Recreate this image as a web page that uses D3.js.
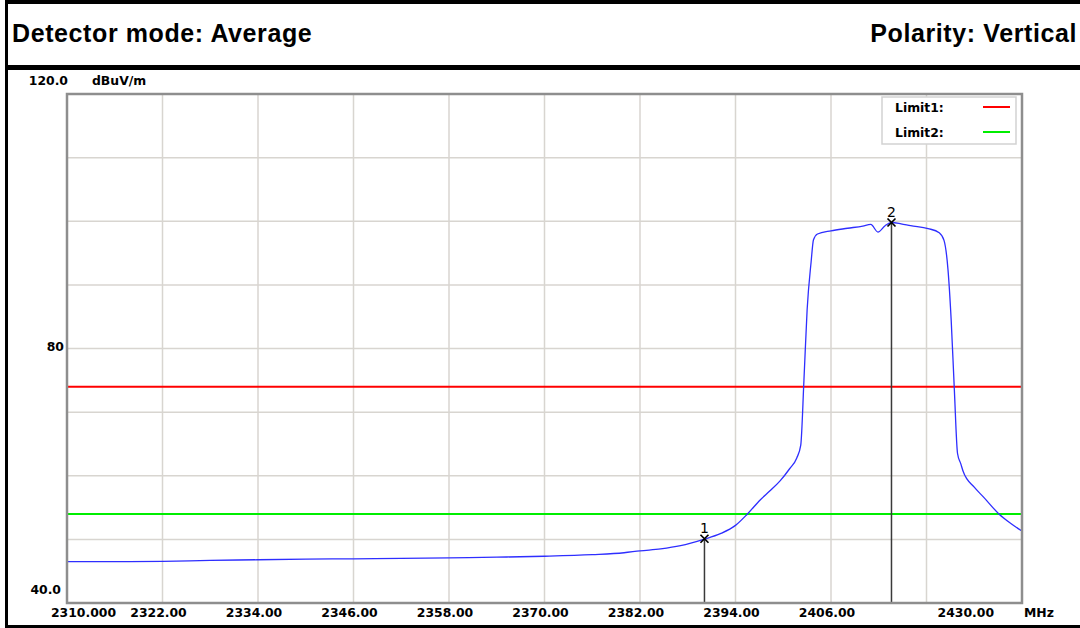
<!DOCTYPE html>
<html>
<head>
<meta charset="utf-8">
<script src="https://cdn.jsdelivr.net/npm/d3@7"></script>
<style>
  html, body { margin: 0; padding: 0; background: #fff; }
  svg { display: block; }
  .hdr { font-family: "Liberation Sans", Arial, sans-serif; font-weight: bold; font-size: 25px; letter-spacing: 0.6px; fill: #000; }
  .lbl { font-family: "DejaVu Sans", sans-serif; font-weight: bold; font-size: 12.4px; fill: #000; }
</style>
</head>
<body>
<svg id="chart" width="1080" height="628"></svg>
<script>
// ---------- data ----------
const headerLeft = "Detector mode: Average";
const headerRight = "Polarity: Vertical";
const yUnit = "dBuV/m";
const xUnit = "MHz";

const xDomain = [2310, 2430];
const yDomain = [40, 120];

const xTickValues = [2310, 2322, 2334, 2346, 2358, 2370, 2382, 2394, 2406, 2418, 2430];
const xTickLabels = ["2310.000", "2322.00", "2334.00", "2346.00", "2358.00", "2370.00", "2382.00", "2394.00", "2406.00", "", "2430.00"];
const yGridValues = [40, 50, 60, 70, 80, 90, 100, 110, 120];
const yTickValues = [120, 80, 40];
const yTickLabels = ["120.0", "80", "40.0"];

const limitNames = ["Limit1:", "Limit2:"];
const limitValues = [74, 54];
const limitColors = ["#ff0000", "#00ee00"];

const traceFreq = [2310, 2316, 2322, 2328, 2334, 2340, 2346, 2352, 2358, 2364, 2370, 2376, 2380, 2382, 2384.6, 2387.1, 2390.0, 2392.1, 2394.0, 2395.5, 2397.1, 2398.3, 2399.6, 2400.8, 2401.7, 2402.2, 2402.6, 2403.0, 2403.5, 2403.8, 2404.3, 2406.0, 2408.1, 2410.0, 2411.0, 2411.9, 2412.8, 2413.6, 2414.8, 2416.0, 2418.2, 2419.6, 2420.2, 2420.7, 2421.1, 2421.5, 2421.9, 2422.3, 2422.6, 2424.0, 2425.2, 2427.1, 2428.6, 2430];
const traceLevel = [46.5, 46.5, 46.55, 46.7, 46.8, 46.9, 46.95, 47.0, 47.1, 47.2, 47.35, 47.6, 47.9, 48.2, 48.5, 49.0, 50.0, 50.9, 52.2, 54.0, 56.2, 57.6, 59.2, 61.1, 62.8, 64.8, 75.0, 86.1, 93.6, 97.1, 98.0, 98.5, 98.9, 99.25, 99.5, 98.3, 99.3, 99.8, 99.6, 99.3, 98.85, 98.2, 97.0, 92.4, 84.5, 73.5, 63.5, 61.9, 60.7, 58.2, 56.6, 54.0, 52.5, 51.3];

const markerNames = ["1", "2"];
const markerFreq = [2390.1, 2413.6];
const markerLevel = [50.1, 99.8];

// ---------- layout ----------
const W = 1080, H = 628;
const plot = { left: 67, right: 1022, top: 94, bottom: 603 };

const svg = d3.select("#chart");
svg.append("rect").attr("width", W).attr("height", H).attr("fill", "#fff");

const x = d3.scaleLinear().domain(xDomain).range([plot.left, plot.right]);
const y = d3.scaleLinear().domain(yDomain).range([plot.bottom, plot.top]);

// frame
const frame = svg.append("g").attr("fill", "#000");
frame.append("rect").attr("x", 5).attr("y", 0).attr("width", W - 5).attr("height", 4);
frame.append("rect").attr("x", 5).attr("y", 65).attr("width", W - 5).attr("height", 5);
frame.append("rect").attr("x", 5).attr("y", 0).attr("width", 3).attr("height", H);
frame.append("rect").attr("x", 5).attr("y", 625).attr("width", W - 5).attr("height", 3);

// header
svg.append("text").attr("class", "hdr").attr("x", 12).attr("y", 42).text(headerLeft);
svg.append("text").attr("class", "hdr").attr("x", 1077).attr("y", 42)
  .attr("text-anchor", "end").text(headerRight);

// grid
const grid = svg.append("g").attr("stroke", "#d8d5d0").attr("stroke-width", 1.5);
grid.selectAll("line.v").data(xTickValues.slice(1, -1)).join("line")
  .attr("x1", d => x(d)).attr("x2", d => x(d))
  .attr("y1", plot.top).attr("y2", plot.bottom);
grid.selectAll("line.h").data(yGridValues.slice(1, -1)).join("line")
  .attr("x1", plot.left).attr("x2", plot.right)
  .attr("y1", d => y(d)).attr("y2", d => y(d));

// limits
svg.append("g").selectAll("line").data(limitValues).join("line")
  .attr("x1", plot.left).attr("x2", plot.right)
  .attr("y1", d => y(d)).attr("y2", d => y(d))
  .attr("stroke", (d, i) => limitColors[i]).attr("stroke-width", 2);

// marker lines
svg.append("g").selectAll("line").data(markerFreq).join("line")
  .attr("x1", d => x(d)).attr("x2", d => x(d))
  .attr("y1", (d, i) => y(markerLevel[i])).attr("y2", plot.bottom)
  .attr("stroke", "#3a3a3a").attr("stroke-width", 1.5);

// trace
const traceData = traceFreq.map((f, i) => [f, traceLevel[i]]);
svg.append("path").datum(traceData)
  .attr("fill", "none").attr("stroke", "#2e2eff").attr("stroke-width", 1.3)
  .attr("d", d3.line().curve(d3.curveMonotoneX).x(d => x(d[0])).y(d => y(d[1])));

// markers
const mk = svg.append("g");
markerFreq.forEach((f, i) => {
  const cx = x(f), cy = y(markerLevel[i]);
  mk.append("path")
    .attr("d", `M${cx - 4},${cy - 4}L${cx + 4},${cy + 4}M${cx + 4},${cy - 4}L${cx - 4},${cy + 4}`)
    .attr("stroke", "#000").attr("stroke-width", 1.7).attr("fill", "none");
  mk.append("text").attr("x", cx).attr("y", cy - 6)
    .attr("text-anchor", "middle")
    .attr("font-family", "DejaVu Sans, sans-serif").attr("font-size", 14).attr("fill", "#000")
    .text(markerNames[i]);
});

// plot border
svg.append("rect")
  .attr("x", plot.left).attr("y", plot.top)
  .attr("width", plot.right - plot.left).attr("height", plot.bottom - plot.top)
  .attr("fill", "none").attr("stroke", "#8e8e8e").attr("stroke-width", 2.5);

// y labels
const yLabelDy = [-9, 2, -9];
const yLabelDx = [1, -3, -6];
svg.append("g").selectAll("text").data(yTickValues).join("text")
  .attr("class", "lbl").attr("text-anchor", "end")
  .attr("x", (d, i) => plot.left + yLabelDx[i])
  .attr("y", (d, i) => y(d) + yLabelDy[i])
  .text((d, i) => yTickLabels[i]);
svg.append("text").attr("class", "lbl").attr("x", 92).attr("y", y(yDomain[1]) - 9).text(yUnit);

// x labels
svg.append("g").selectAll("text").data(xTickValues).join("text")
  .attr("class", "lbl")
  .attr("text-anchor", (d, i) => i === 0 ? "start" : (i === xTickValues.length - 1 ? "end" : "middle"))
  .attr("x", (d, i) => i === 0 ? x(d) - 16 : (i === xTickValues.length - 1 ? x(d) - 28 : x(d) - 4))
  .attr("y", 617)
  .text((d, i) => xTickLabels[i]);
svg.append("text").attr("class", "lbl").attr("x", plot.right + 2).attr("y", 617).text(xUnit);

// legend
const lg = svg.append("g");
lg.append("rect").attr("x", 882).attr("y", 97).attr("width", 134).attr("height", 47)
  .attr("fill", "#fff").attr("stroke", "#d2d2d2").attr("stroke-width", 1.5);
limitNames.forEach((n, i) => {
  const ly = 112 + i * 25;
  lg.append("text").attr("class", "lbl").attr("x", 895).attr("y", ly).text(n);
  lg.append("line").attr("x1", 983).attr("x2", 1010).attr("y1", ly - 5).attr("y2", ly - 5)
    .attr("stroke", limitColors[i]).attr("stroke-width", 2);
});
</script>
</body>
</html>
